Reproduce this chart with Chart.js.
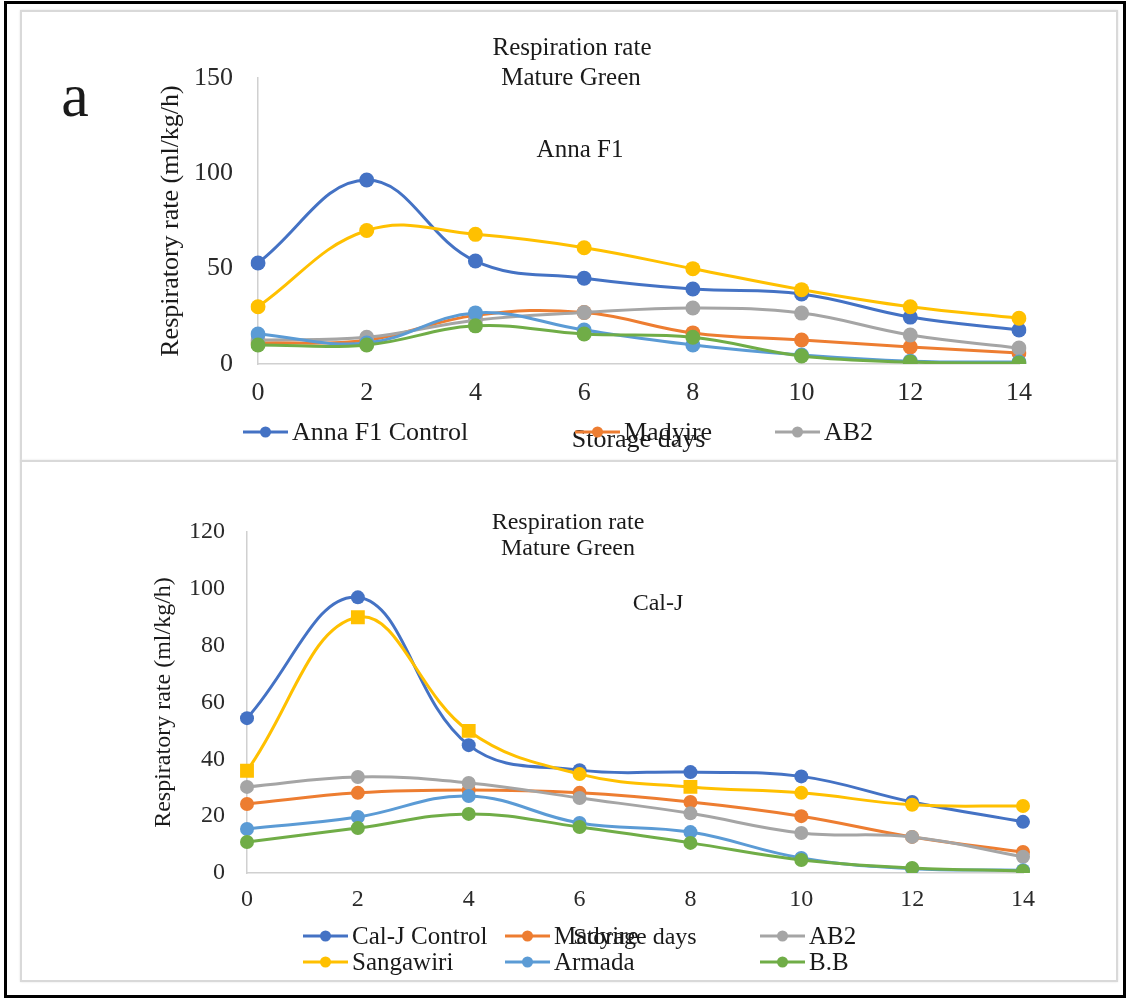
<!DOCTYPE html>
<html>
<head>
<meta charset="utf-8">
<script src="https://cdn.jsdelivr.net/npm/chart.js@4.4.1/dist/chart.umd.min.js"></script>
<style>
  body { margin: 0; background: #fff; }
  #frame { position: absolute; left: 4px; top: 1px; width: 1122px; height: 997px; box-sizing: border-box; border: 3px solid #000; }
  .panel { position: absolute; box-sizing: border-box; border: 2px solid #d9d9d9; background: #fff; box-shadow: 0 0 2px #e4e4e4; }
  canvas { position: absolute; }
</style>
</head>
<body>
<div id="frame"></div>
<div class="panel" style="left:20px;top:10px;width:1098px;height:452px"></div>
<div class="panel" style="left:20px;top:460px;width:1098px;height:522px"></div>
<canvas id="annaChart" width="1098" height="451" style="left:20px;top:10px"></canvas>
<canvas id="calChart" width="1098" height="521" style="left:20px;top:461px"></canvas>
<script>
// storage days on the x axis
const days = [0, 2, 4, 6, 8, 10, 12, 14];

// Anna F1 (top panel)
const annaNames = ['Anna F1 Control', 'Madyire', 'AB2', 'Sangawiri', 'Armada', 'B.B'];
const annaControl = [53, 96.5, 54, 45, 39.3, 36.7, 24.6, 17.8];
const annaMadyire = [11, 12.5, 25.5, 27, 16.3, 12.6, 8.9, 5.8];
const annaAB2 = [12.5, 14, 23, 27, 29.4, 26.7, 15.2, 8.4];
const annaSangawiri = [30, 70, 68, 61, 50, 39, 30, 24];
const annaArmada = [15.7, 11, 26.8, 17.8, 10, 4.7, 1.5, 1];
const annaBB = [10, 10, 20, 15.7, 14, 4.2, 1, 0.5];
const annaTicks = [0, 50, 100, 150];

// Cal-J (bottom panel)
const calNames = ['Cal-J Control', 'Madyire', 'AB2', 'Sangawiri', 'Armada', 'B.B'];
const calControl = [54.5, 97, 45, 36.2, 35.5, 34, 25, 18];
const calMadyire = [24.3, 28.2, 29.2, 28.2, 25, 20, 12.7, 7.4];
const calAB2 = [30.3, 33.8, 31.7, 26.4, 21, 14.1, 12.7, 5.7];
const calSangawiri = [36, 90, 50, 34.8, 30.3, 28.2, 24, 23.6];
const calArmada = [15.5, 19.7, 27.1, 17.6, 14.4, 5.3, 1.5, 1];
const calBB = [10.9, 15.8, 20.8, 16.2, 10.6, 4.6, 1.8, 0.7];
const calTicks = [0, 20, 40, 60, 80, 100, 120];

const colors = ['#4472C4', '#ED7D31', '#A5A5A5', '#FFC000', '#5B9BD5', '#70AD47'];
const serif = '"Liberation Serif", "Times New Roman", serif';

// titles, notes and the excel style legend are painted on top
const overlayText = {
    id: 'overlayText',
    afterDraw(chart, args, opts) {
        const ctx = chart.ctx;
        ctx.save();
        ctx.fillStyle = '#1a1a1a';
        ctx.textBaseline = 'middle';
        ctx.textAlign = 'center';
        (opts.items || []).forEach(function(it) {
            ctx.font = it.size + 'px ' + serif;
            ctx.fillText(it.text, it.x, it.y);
        });
        const lg = opts.legend;
        if (lg) {
            ctx.textAlign = 'left';
            ctx.font = lg.size + 'px ' + serif;
            chart.data.datasets.slice(0, lg.count).forEach(function(ds, i) {
                const x = lg.cols[i % lg.cols.length];
                const y = lg.rows[Math.floor(i / lg.cols.length)];
                ctx.strokeStyle = ds.borderColor;
                ctx.fillStyle = ds.borderColor;
                ctx.lineWidth = 3;
                ctx.beginPath();
                ctx.moveTo(x, y);
                ctx.lineTo(x + 45, y);
                ctx.stroke();
                ctx.beginPath();
                ctx.arc(x + 22.5, y, 5.5, 0, Math.PI * 2);
                ctx.fill();
                ctx.fillStyle = '#1a1a1a';
                ctx.fillText(ds.label, x + 49, y + 1);
            });
        }
        ctx.restore();
    }
};

function makeChart(id, cfg) {
    const datasets = cfg.series.map(function(values, i) {
        const style = cfg.pointStyles && cfg.pointStyles[i];
        return {
            label: cfg.names[i],
            data: values,
            borderColor: colors[i],
            backgroundColor: colors[i],
            borderWidth: 3,
            pointRadius: style ? style.map(function(s) { return s === 'rect' ? cfg.pointRadius * 1.4 : cfg.pointRadius; }) : cfg.pointRadius,
            pointStyle: style || 'circle',
            pointBorderWidth: 0,
            tension: 0.4,
            order: -i
        };
    });
    return new Chart(document.getElementById(id), {
        type: 'line',
        data: { labels: days.map(String), datasets: datasets },
        plugins: [overlayText],
        options: {
            responsive: false,
            animation: false,
            devicePixelRatio: 1,
            layout: { padding: cfg.padding },
            plugins: {
                legend: { display: false },
                tooltip: { enabled: false },
                overlayText: { items: cfg.texts, legend: cfg.legend }
            },
            scales: {
                x: {
                    type: 'category',
                    offset: false,
                    grid: { drawOnChartArea: false, drawTicks: false },
                    border: { color: '#d0d0d0', width: 1.5 },
                    ticks: { color: '#2a2a2a', padding: cfg.xPad, font: { family: serif, size: cfg.font }, maxRotation: 0 },
                    title: { display: true, text: 'Storage days', color: '#1a1a1a', padding: 0, font: { family: serif, size: cfg.font } },
                    afterFit: function(s) { s.height = cfg.xHeight; }
                },
                y: {
                    min: cfg.ticks[0],
                    max: cfg.ticks[cfg.ticks.length - 1],
                    grid: { drawOnChartArea: false, drawTicks: false },
                    border: { color: '#d0d0d0', width: 1.5 },
                    ticks: { color: '#2a2a2a', padding: cfg.yPad, font: { family: serif, size: cfg.font } },
                    afterBuildTicks: function(s) { s.ticks = cfg.ticks.map(function(v) { return { value: v }; }); },
                    title: { display: true, text: 'Respiratory rate (ml/kg/h)', color: '#1a1a1a', padding: 0, font: { family: serif, size: cfg.font } },
                    afterFit: function(s) { s.width = cfg.yWidth; }
                }
            }
        }
    });
}

makeChart('annaChart', {
    names: annaNames,
    series: [annaControl, annaMadyire, annaAB2, annaSangawiri, annaArmada, annaBB],
    ticks: annaTicks,
    font: 26,
    pointRadius: 7.5,
    padding: { left: 136, right: 99, top: 68, bottom: 5 },
    yWidth: 102,
    xHeight: 92,
    xPad: 14,
    yPad: 25,
    texts: [
        { text: 'Respiration rate', x: 552, y: 38, size: 25 },
        { text: 'Mature Green', x: 551, y: 68, size: 25 },
        { text: 'Anna F1', x: 560, y: 140, size: 25 },
        { text: 'a', x: 55, y: 90, size: 62 }
    ],
    legend: { count: 3, cols: [223, 555, 755], rows: [422], size: 26 }
});

makeChart('calChart', {
    names: calNames,
    series: [calControl, calMadyire, calAB2, calSangawiri, calArmada, calBB],
    ticks: calTicks,
    font: 24,
    pointRadius: 7,
    pointStyles: [null, null, null, ['rect', 'rect', 'rect', 'circle', 'rect', 'circle', 'circle', 'circle'], null, null],
    padding: { left: 129, right: 95, top: 71, bottom: 30 },
    yWidth: 98,
    xHeight: 79,
    xPad: 12,
    yPad: 22,
    texts: [
        { text: 'Respiration rate', x: 548, y: 62, size: 24 },
        { text: 'Mature Green', x: 548, y: 88, size: 24 },
        { text: 'Cal-J', x: 638, y: 143, size: 24 }
    ],
    legend: { count: 6, cols: [283, 485, 740], rows: [475, 501], size: 25 }
});
</script>
</body>
</html>
